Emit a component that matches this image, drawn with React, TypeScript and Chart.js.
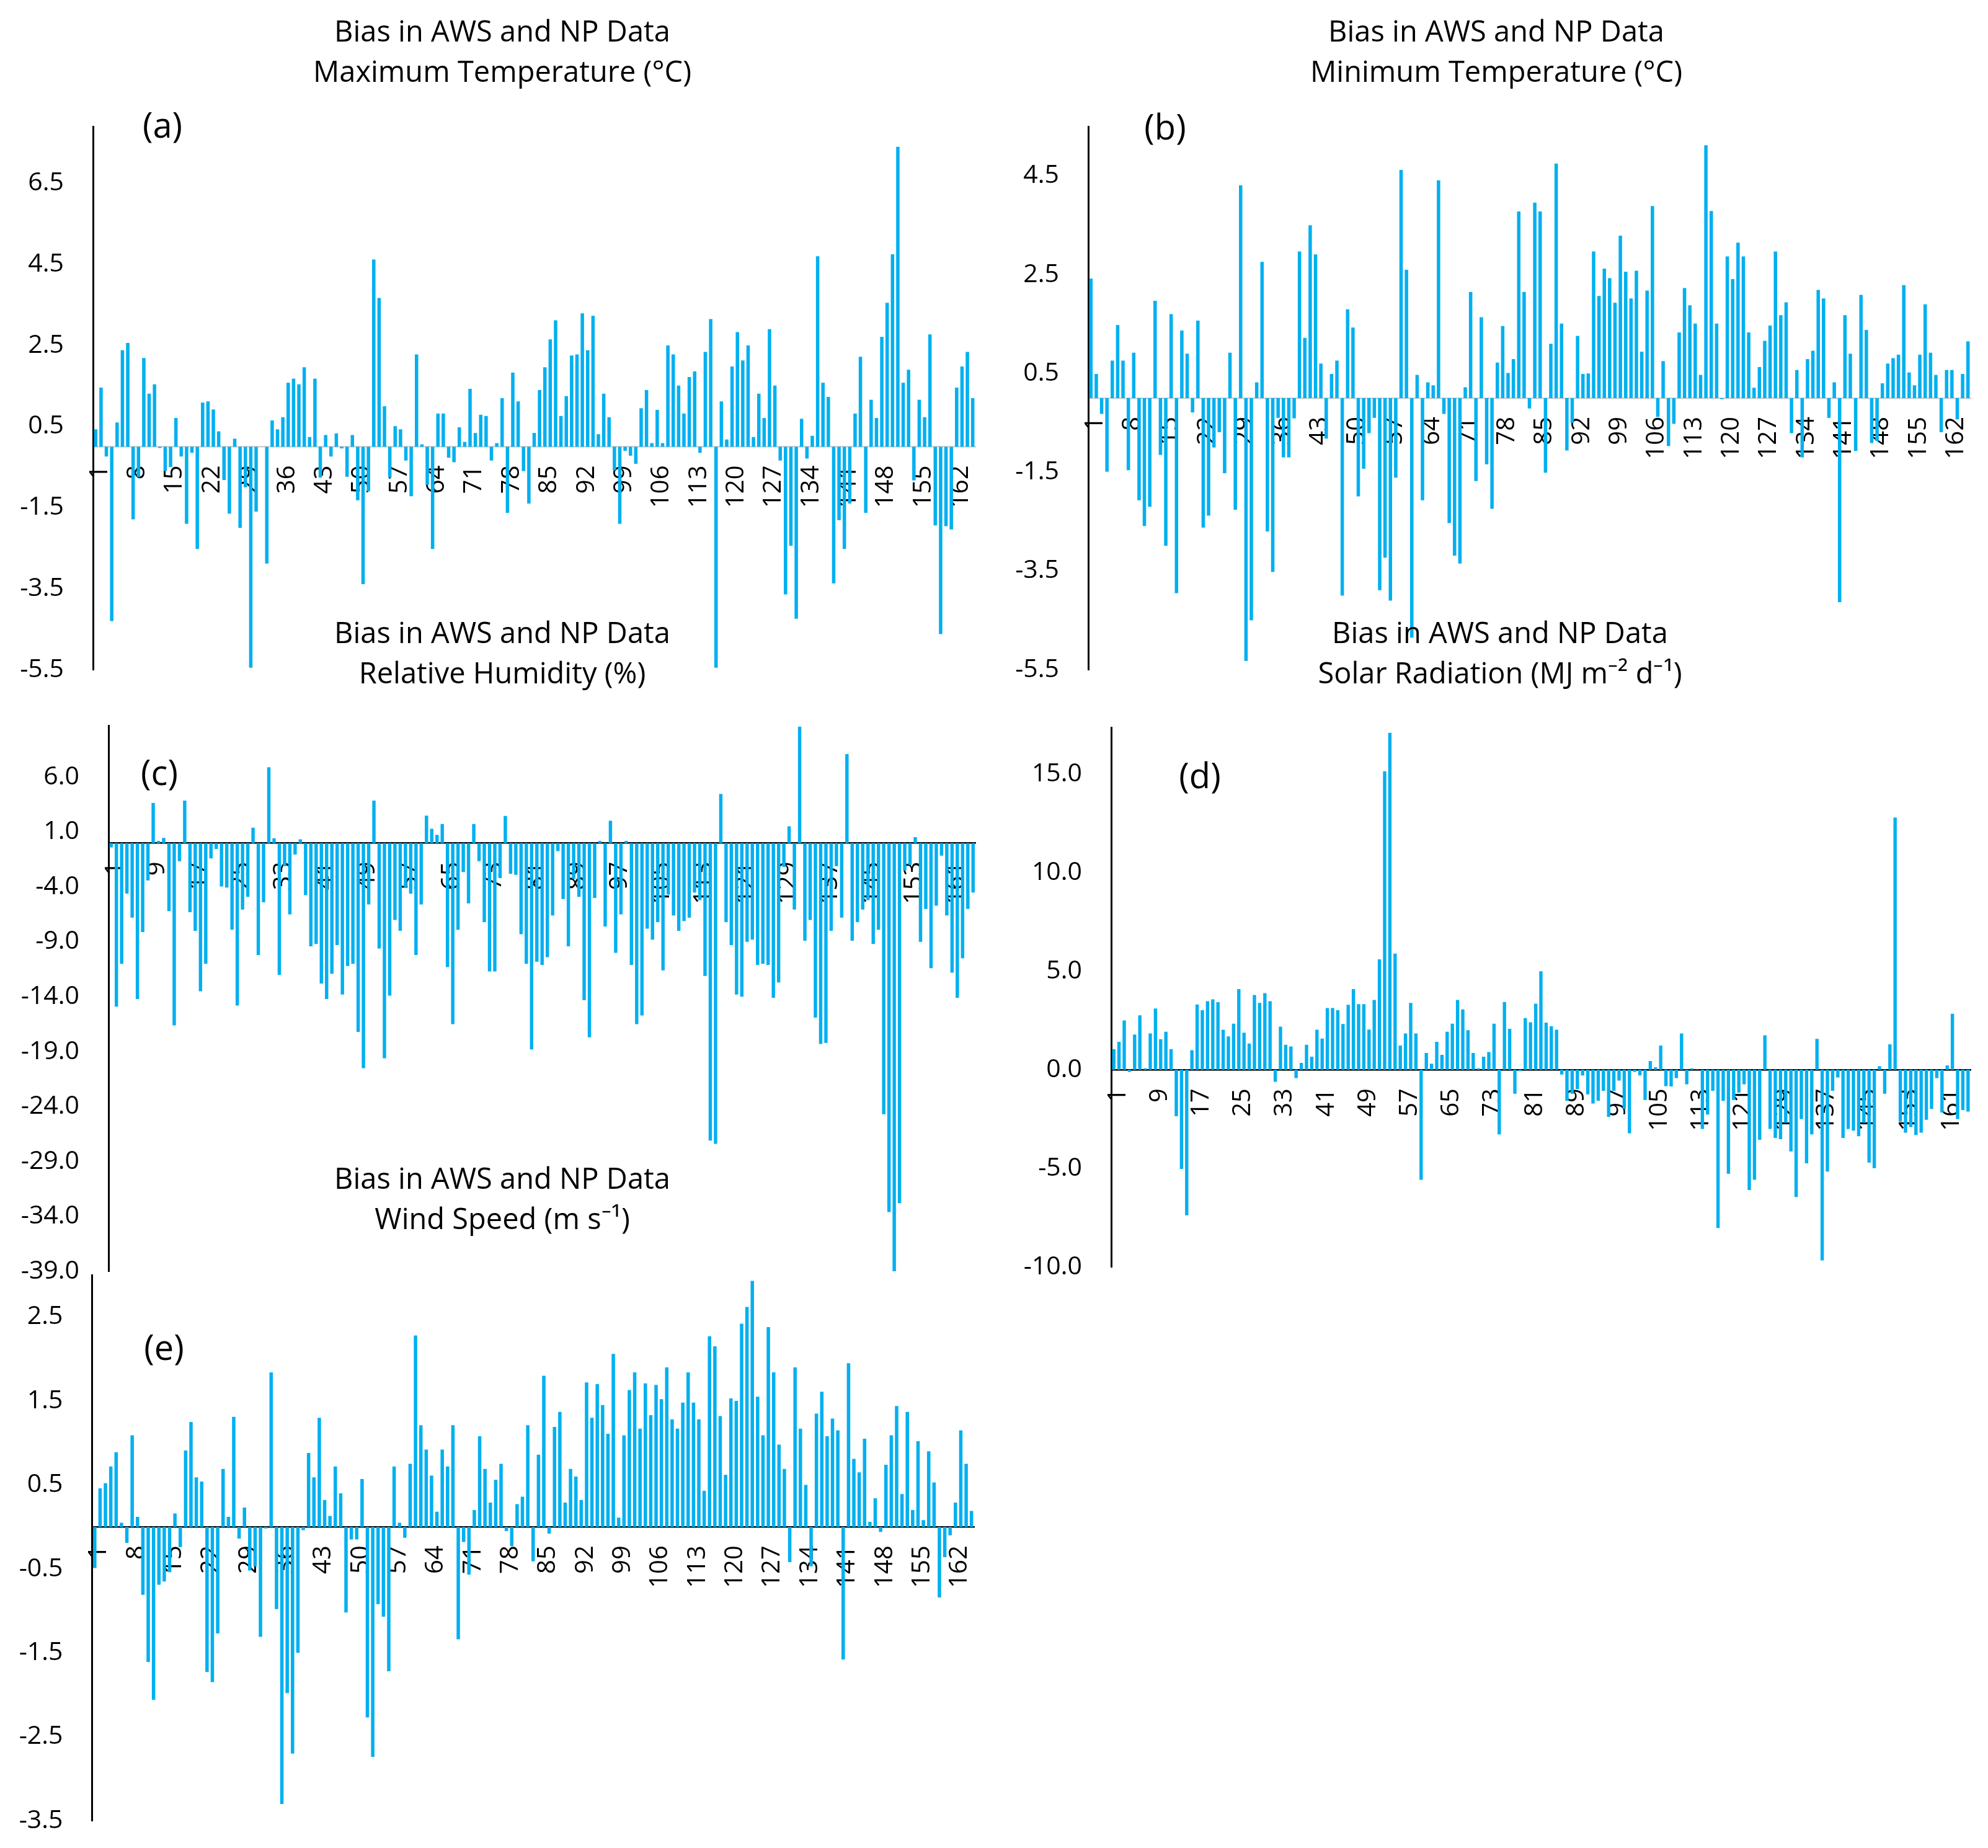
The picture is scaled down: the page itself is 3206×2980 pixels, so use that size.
import React, { useEffect, useRef } from 'react';
import { Chart, registerables } from 'chart.js';

Chart.register(...registerables);

// days of the record (1..165)
const days = Array.from({ length: 165 }, (_, i) => String(i + 1));

const maxTempBias = [
  0.43, 1.46, -0.24, -4.3, 0.6, 2.38, 2.56, -1.79, -0.75, 2.19,
  1.31, 1.54, -0.03, -0.6, -0.5, 0.71, -0.24, -1.9, -0.15, -2.52,
  1.09, 1.12, 0.92, 0.38, -0.82, -1.65, 0.2, -2.0, -1.0, -5.45,
  -1.6, 0, -2.88, 0.65, 0.43, 0.73, 1.58, 1.68, 1.54, 1.96,
  0.24, 1.68, -0.76, 0.29, -0.24, 0.33, -0.04, -0.74, 0.29, -1.32,
  -3.39, -1.1, 4.62, 3.67, 1.0, -0.76, 0.51, 0.43, -0.34, -1.22,
  2.28, 0.06, -0.94, -2.52, 0.82, 0.82, -0.27, -0.38, 0.48, 0.12,
  1.43, 0.34, 0.79, 0.76, -0.34, 0.09, 1.2, -1.63, 1.83, 1.12,
  -0.6, -1.4, 0.34, 1.4, 1.96, 2.65, 3.12, 0.76, 1.25, 2.25,
  2.28, 3.29, 2.38, 3.23, 0.31, 1.31, 0.73, -0.58, -1.9, -0.1,
  -0.22, -0.42, 0.95, 1.4, 0.09, 0.91, 0.09, 2.5, 2.28, 1.51,
  0.82, 1.72, 1.86, -0.15, 2.34, 3.15, -5.45, 1.12, 0.18, 1.98,
  2.83, 2.13, 2.5, 0.24, 1.31, 0.71, 2.9, 1.51, -0.34, -3.64,
  -2.44, -4.24, 0.69, -0.29, 0.27, 4.7, 1.58, 1.23, -3.37, -1.81,
  -2.52, -1.4, 0.82, 2.22, -1.63, 1.16, 0.71, 2.71, 3.55, 4.75,
  7.4, 1.58, 1.9, -0.83, 1.16, 0.73, 2.77, -1.94, -4.62, -1.96,
  -2.04, 1.46, 1.98, 2.34, 1.2,
];

const minTempBias = [
  2.42, 0.49, -0.32, -1.49, 0.76, 1.48, 0.76, -1.46, 0.92, -2.07,
  -2.59, -2.2, 1.97, -1.15, -2.99, 1.7, -3.95, 1.37, 0.9, -0.29,
  1.57, -2.62, -2.38, -1.0, -0.69, -1.52, 0.92, -2.26, 4.31, -5.32,
  -4.5, 0.32, 2.76, -2.7, -3.52, -0.4, -1.2, -1.2, -0.41, 2.97,
  1.22, 3.5, 2.91, 0.7, -0.82, 0.49, 0.76, -4.0, 1.8, 1.43,
  -1.99, -1.43, -0.71, -0.4, -3.89, -3.23, -4.1, -1.61, 4.62, 2.6,
  -4.85, 0.47, -2.07, 0.32, 0.26, 4.41, -0.32, -2.53, -3.19, -3.35,
  0.22, 2.15, -1.68, 1.64, -1.34, -2.24, 0.72, 1.46, 0.51, 0.79,
  3.78, 2.15, -0.21, 3.96, 3.78, -1.51, 1.1, 4.75, 1.51, -1.06,
  -0.5, 1.26, 0.49, 0.5, 2.97, 2.07, 2.62, 2.43, 1.93, 3.29,
  2.56, 2.02, 2.58, 0.94, 2.18, 3.89, -0.38, 0.75, -0.97, -0.52,
  1.33, 2.23, 1.88, 1.51, 0.47, 5.12, 3.79, 1.51, -0.02, 2.87,
  2.41, 3.15, 2.87, 1.33, 0.21, 0.63, 1.16, 1.47, 2.97, 1.68,
  1.94, -0.71, 0.57, -1.2, 0.79, 0.96, 2.19, 2.02, -0.4, 0.32,
  -4.13, 1.68, 0.9, -1.07, 2.09, 1.38, -0.91, -0.87, 0.3, 0.7,
  0.81, 0.88, 2.29, 0.52, 0.26, 0.88, 1.9, 0.92, 0.47, -0.69,
  0.57, 0.57, -0.43, 0.49, 1.15,
];

const humidityBias = [
  -0.4, -14.9, -11.0, -4.6, -6.8, -14.2, -8.1, -3.4, 3.66, 0.2,
  0.47, -6.2, -16.6, -1.66, 3.86, -6.3, -8.0, -13.5, -11.0, -1.4,
  -0.54, -3.96, -4.06, -7.9, -14.8, -6.06, -4.9, 1.39, -10.2, -5.4,
  6.9, 0.44, -12.0, -2.1, -6.5, -1.05, 0.34, -4.74, -9.4, -9.2,
  -12.8, -14.2, -11.9, -9.3, -13.8, -11.2, -11.0, -17.2, -20.5, -5.6,
  3.86, -9.6, -19.6, -13.9, -7.0, -8.0, -4.1, -4.6, -10.2, -5.6,
  2.5, 1.29, 0.74, 1.73, -11.3, -16.5, -7.9, -2.64, -5.5, 1.73,
  -1.66, -7.2, -11.7, -11.7, -3.2, 2.47, -2.8, -2.9, -8.3, -11.0,
  -18.8, -10.8, -11.1, -10.4, -6.6, -0.74, -5.1, -9.4, -3.25, -4.9,
  -14.3, -17.7, -5.0, 0.2, -7.6, 2.03, -10.0, -6.5, 0.2, -11.1,
  -16.5, -15.7, -7.8, -8.8, -7.2, -11.6, -4.7, -6.6, -8.0, -7.1,
  -6.8, -4.5, -5.2, -12.1, -27.1, -27.4, 4.47, -7.2, -9.3, -13.8,
  -14.0, -9.0, -8.8, -11.1, -11.0, -11.1, -14.1, -12.7, -2.17, 1.52,
  -6.06, 10.6, -8.9, -7.0, -15.9, -18.3, -18.2, -8.0, -2.1, -6.8,
  8.1, -8.9, -7.2, -6.06, -5.2, -9.2, -7.9, -24.7, -33.6, -39.0,
  -32.8, -2.5, -2.0, 0.54, -9.0, -6.0, -11.4, -5.7, -1.15, -6.6,
  -11.8, -14.1, -10.5, -6.0, -4.5,
];

const solarBias = [
  1.05, 1.42, 2.5, -0.11, 1.79, 2.76, 0.07, 1.84, 3.11, 1.55,
  1.93, 1.05, -2.36, -5.03, -7.38, 0.99, 3.31, 3.02, 3.48, 3.57,
  3.43, 2.03, 1.69, 2.34, 4.09, 1.88, 1.33, 3.79, 3.39, 3.89,
  3.48, -0.61, 2.19, 1.27, 1.18, -0.42, 0.35, 1.27, 0.66, 2.03,
  1.58, 3.13, 3.13, 3.02, 2.32, 3.3, 4.09, 3.33, 3.33, 2.04,
  3.54, 5.6, 15.14, 17.09, 5.89, 1.23, 1.84, 3.39, 1.84, -5.58,
  0.85, 0.31, 1.42, 0.76, 1.93, 2.34, 3.54, 3.06, 2.01, 0.85,
  0.07, 0.66, 0.9, 2.34, -3.28, 3.44, 2.08, -1.22, -0.07, 2.62,
  2.41, 3.35, 5.0, 2.39, 2.21, 2.03, -0.24, -1.58, -1.22, -0.98,
  -0.29, -1.25, -1.71, -1.57, -1.07, -2.39, -1.07, -0.55, -1.99, -3.22,
  -0.11, -0.29, -1.53, 0.44, 0.13, 1.23, -0.83, -0.85, -0.42, 1.84,
  -0.74, 0.07, 0.02, -3.0, -2.27, -1.07, -8.03, -1.58, -5.27, -1.53,
  -1.16, -0.74, -6.1, -5.58, -3.55, 1.75, -3.0, -3.46, -3.52, -2.69,
  -4.14, -6.45, -2.5, -4.75, -3.28, 1.57, -9.67, -5.16, -1.07, -0.39,
  -3.46, -3.0, -3.09, -3.37, -2.69, -4.71, -4.99, 0.18, -1.22, 1.29,
  12.8, -2.63, -3.19, -2.91, -3.31, -3.19, -2.54, -1.99, -0.42, -2.17,
  0.22, 2.84, -2.5, -2.04, -2.12,
];

const windBias = [
  -0.49, 0.46, 0.52, 0.72, 0.89, 0.05, -0.19, 1.09, 0.12, -0.81,
  -1.61, -2.06, -0.69, -0.65, -0.54, 0.16, -0.24, 0.91, 1.25, 0.59,
  0.54, -1.73, -1.85, -1.27, 0.69, 0.12, 1.31, -0.14, 0.23, -0.52,
  -0.47, -1.31, -0.02, 1.84, -0.98, -3.3, -1.98, -2.7, -1.5, -0.04,
  0.88, 0.59, 1.3, 0.32, 0.13, 0.72, 0.4, -1.02, -0.15, -0.15,
  0.57, -2.27, -2.74, -0.92, -1.07, -1.72, 0.72, 0.05, -0.13, 0.75,
  2.28, 1.21, 0.92, 0.61, 0.18, 0.92, 0.72, 1.21, -1.34, -0.18,
  -0.57, 0.2, 1.08, 0.69, 0.29, 0.56, 0.75, -0.05, -0.23, 0.27,
  0.36, 1.21, -0.41, 0.86, 1.8, -0.08, 1.19, 1.37, 0.29, 0.69,
  0.6, 0.32, 1.72, 1.3, 1.7, 1.45, 1.11, 2.06, 0.11, 1.09,
  1.63, 1.84, 1.17, 1.71, 1.33, 1.69, 1.52, 1.9, 1.28, 1.17,
  1.48, 1.84, 1.48, 1.28, 0.43, 2.27, 2.15, 1.32, 0.62, 1.53,
  1.5, 2.42, 2.62, 2.93, 1.55, 1.09, 2.38, 1.84, 0.98, 0.69,
  -0.42, 1.9, 1.17, 0.5, -0.47, 1.35, 1.61, 1.08, 1.29, 1.15,
  -1.58, 1.95, 0.81, 0.65, 1.05, 0.06, 0.34, -0.06, 0.74, 1.09,
  1.44, 0.39, 1.37, 0.2, 1.02, 0.08, 0.9, 0.53, -0.84, -0.36,
  -0.1, 0.29, 1.15, 0.75, 0.19,
];

const maxTempTicks = [-5.5, -3.5, -1.5, 0.5, 2.5, 4.5, 6.5];
const minTempTicks = [-5.5, -3.5, -1.5, 0.5, 2.5, 4.5];
const humidityTicks = [-39, -34, -29, -24, -19, -14, -9, -4, 1, 6];
const solarTicks = [-10, -5, 0, 5, 10, 15];
const windTicks = [-3.5, -2.5, -1.5, -0.5, 0.5, 1.5, 2.5];

const BAR = '#00B0F0';
const FONT = "'Open Sans', sans-serif";

// two-line panel heading and the (a)…(e) tag, drawn onto the chart canvas
const panelText = {
  id: 'panelText',
  afterDraw(chart: any, _args: any, opts: any) {
    const { ctx, chartArea } = chart;
    ctx.save();
    ctx.fillStyle = '#000';
    ctx.textAlign = 'center';
    ctx.textBaseline = 'middle';
    ctx.font = `47px ${FONT}`;
    opts.title.forEach((line: string, i: number) => {
      ctx.fillText(line, opts.titleX, opts.titleY + i * 65);
    });
    ctx.font = `56px ${FONT}`;
    ctx.fillText(opts.label, chartArea.left + opts.dx, chartArea.top + opts.dy);
    ctx.restore();
  },
};

type PanelProps = {
  values: number[];
  ticks: number[];
  min: number;
  max: number;
  title: string[];
  titleX: number;
  titleY: number;
  label: string;
  labelPos: [number, number];
  every: number;
  zeroColor: string;
  left: number;
  top: number;
  width: number;
  height: number;
  padTop: number;
  padRight: number;
  axisWidth: number;
};

function Panel(p: PanelProps) {
  const canvasRef = useRef<HTMLCanvasElement>(null);

  useEffect(() => {
    const canvas = canvasRef.current;
    if (!canvas) return;
    const chart = new Chart(canvas, {
      type: 'bar',
      data: {
        labels: days,
        datasets: [{
          data: p.values,
          backgroundColor: BAR,
          borderWidth: 0,
          barPercentage: 0.64,
          categoryPercentage: 1,
        }],
      },
      options: {
        animation: false,
        responsive: false,
        layout: { padding: { left: 0, right: p.padRight, top: p.padTop, bottom: 30 } },
        plugins: {
          legend: { display: false },
          tooltip: { enabled: false },
          title: { display: false },
          panelText: {
            title: p.title,
            titleX: p.titleX - p.left,
            titleY: p.titleY - p.top,
            label: p.label,
            dx: p.labelPos[0],
            dy: p.labelPos[1],
          },
        } as any,
        scales: {
          x: {
            position: { y: 0 },
            grid: { display: false, drawTicks: false },
            border: { color: p.zeroColor, width: 2.5 },
            ticks: {
              autoSkip: false,
              minRotation: 90,
              maxRotation: 90,
              padding: 30,
              labelOffset: 7,
              color: '#000',
              font: { family: FONT, size: 40 },
              callback: (_v: any, i: number) => (i % p.every === 0 ? days[i] : ''),
            },
            afterFit: (s: any) => {
              s.height = 0;
              s.paddingLeft = 0;
              s.paddingRight = 0;
            },
          },
          y: {
            min: p.min,
            max: p.max,
            grid: { display: false, drawTicks: false },
            border: { color: '#000', width: 3 },
            ticks: {
              padding: 47,
              color: '#000',
              font: { family: FONT, size: 41 },
              callback: (v: any) => Number(v).toFixed(1),
            },
            afterBuildTicks: (s: any) => {
              s.ticks = p.ticks.map((value) => ({ value }));
            },
            afterFit: (s: any) => {
              s.width = p.axisWidth;
              s.paddingTop = 0;
              s.paddingBottom = 0;
            },
          },
        } as any,
      },
      plugins: [panelText],
    });
    return () => {
      chart.destroy();
    };
  }, [p]);

  return (
    <canvas
      ref={canvasRef}
      width={p.width}
      height={p.height}
      style={{ position: 'absolute', left: p.left, top: p.top }}
    />
  );
}

const panels: PanelProps[] = [
  {
    values: maxTempBias, ticks: maxTempTicks, min: -5.5, max: 7.9,
    title: ['Bias in AWS and NP Data', 'Maximum Temperature (°C)'], titleX: 810, titleY: 53.5,
    label: '(a)', labelPos: [112, 2], every: 7, zeroColor: '#D0D0D0',
    left: 0, top: 0, width: 1600, height: 1110,
    padTop: 204, padRight: 27, axisWidth: 150,
  },
  {
    values: minTempBias, ticks: minTempTicks, min: -5.5, max: 5.5,
    title: ['Bias in AWS and NP Data', 'Minimum Temperature (°C)'], titleX: 2413, titleY: 53.5,
    label: '(b)', labelPos: [124, 5], every: 7, zeroColor: '#D0D0D0',
    left: 1600, top: 0, width: 1606, height: 1110,
    padTop: 204, padRight: 28, axisWidth: 155,
  },
  {
    values: humidityBias, ticks: humidityTicks, min: -39, max: 10.7,
    title: ['Bias in AWS and NP Data', 'Relative Humidity (%)'], titleX: 810, titleY: 1024,
    label: '(c)', labelPos: [82, 80], every: 8, zeroColor: '#000',
    left: 0, top: 970, width: 1600, height: 1110,
    padTop: 200, padRight: 26.5, axisWidth: 175,
  },
  {
    values: solarBias, ticks: solarTicks, min: -10, max: 17.35,
    title: ['Bias in AWS and NP Data', 'Solar Radiation (MJ m⁻² d⁻¹)'], titleX: 2419, titleY: 1024,
    label: '(d)', labelPos: [143, 82], every: 8, zeroColor: '#000',
    left: 1600, top: 970, width: 1606, height: 1103,
    padTop: 203.5, padRight: 28, axisWidth: 192,
  },
  {
    values: windBias, ticks: windTicks, min: -3.5, max: 3.0,
    title: ['Bias in AWS and NP Data', 'Wind Speed (m s⁻¹)'], titleX: 810, titleY: 1904,
    label: '(e)', labelPos: [116, 121], every: 7, zeroColor: '#000',
    left: 0, top: 1850, width: 1600, height: 1116,
    padTop: 206, padRight: 29, axisWidth: 148.5,
  },
];

export default function App() {
  return (
    <div
      style={{
        position: 'absolute',
        left: 0,
        top: 0,
        width: 3206,
        height: 2980,
        overflow: 'hidden',
        background: '#fff',
      }}
    >
      {panels.map((p) => (
        <Panel key={p.label} {...p} />
      ))}
    </div>
  );
}
